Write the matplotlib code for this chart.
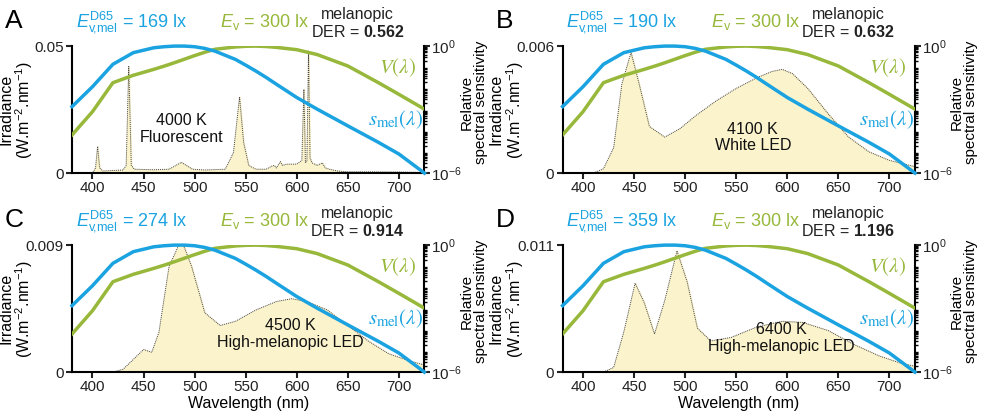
import numpy as np
import matplotlib
matplotlib.use("Agg")
import matplotlib.pyplot as plt
from matplotlib.ticker import LogLocator, NullFormatter

plt.rcParams["font.family"] = ["Liberation Sans", "DejaVu Sans"]
plt.rcParams["mathtext.fontset"] = "custom"
plt.rcParams["mathtext.rm"] = "Liberation Sans"
plt.rcParams["mathtext.it"] = "Liberation Sans:italic"
plt.rcParams["mathtext.bf"] = "Liberation Sans:bold"

BLUE = "#1aa3e0"
GREEN = "#97b83a"
FILL = "#fbf3cc"

# sensitivity curves (log10 of relative sensitivity)
sens_wl = [380, 400, 420, 440, 460, 470, 480, 490, 500, 510, 520, 540, 550, 560, 570, 580, 600, 620, 650, 680, 700, 725]
v_log = [-4.2, -3.1, -1.73, -1.38, -1.1, -0.95, -0.79, -0.62, -0.45, -0.29, -0.15, -0.04, -0.01, 0.0, -0.02, -0.06,
         -0.17, -0.4, -0.94, -1.73, -2.28, -2.98]
smel_log = [-2.86, -1.92, -0.86, -0.31, -0.08, -0.03, 0.0, 0.0, -0.03, -0.11, -0.24, -0.63, -0.9, -1.18, -1.48, -1.8,
            -2.43, -2.98, -3.77, -4.55, -5.1, -6.0]

# spectra (wavelength, irradiance)
fl_wl = [380, 400, 403, 405, 407, 410, 430, 433, 435.5, 438, 441, 460, 475, 487, 498, 510, 530, 538, 544, 548, 553, 560, 570,
         576, 578, 580, 584, 586, 590, 600, 605, 607, 608.5, 610, 611.5, 613, 615, 620, 625, 628, 632, 640, 650, 700, 725]
fl_ir = [0, 0, 0.002, 0.0105, 0.002, 0.0008, 0.0012, 0.003, 0.042, 0.003, 0.0015, 0.0013, 0.0015, 0.0042, 0.0015, 0.0012, 0.0015,
         0.008, 0.03, 0.012, 0.003, 0.0015, 0.0015, 0.0028, 0.003, 0.002, 0.0045, 0.003, 0.0035, 0.0035, 0.005, 0.033, 0.004,
         0.005, 0.048, 0.006, 0.004, 0.003, 0.004, 0.002, 0.0015, 0.0008, 0.0005, 0.0004, 0.0002]
wl_wl = [380, 410, 420, 430, 438, 447, 455, 465, 480, 495, 510, 530, 550, 570, 585, 595, 605, 620, 640, 660, 680, 700, 725]
wl_ir = [0, 0, 0.0002, 0.0012, 0.0042, 0.0057, 0.0042, 0.0022, 0.0017, 0.0021, 0.0027, 0.0034, 0.004, 0.0045, 0.0048, 0.0049,
         0.0047, 0.004, 0.0028, 0.0017, 0.001, 0.0006, 0.0003]
c_wl = [380, 420, 430, 440, 450, 458, 465, 475, 487, 497, 510, 525, 540, 560, 580, 595, 610, 630, 650, 670, 690, 710, 725]
c_ir = [0, 0, 0.0002, 0.0009, 0.0016, 0.0014, 0.0028, 0.0075, 0.0094, 0.0075, 0.0042, 0.0033, 0.0036, 0.0044, 0.005, 0.0052,
        0.005, 0.0044, 0.0033, 0.0022, 0.0013, 0.0008, 0.0005]
d_wl = [380, 420, 430, 440, 451, 460, 470, 480, 492, 502, 512, 525, 545, 570, 595, 615, 640, 665, 690, 710, 725]
d_ir = [0, 0, 0.0004, 0.0035, 0.0077, 0.006, 0.0033, 0.0062, 0.0105, 0.0078, 0.0038, 0.0027, 0.003, 0.0039, 0.0044, 0.0043,
        0.0036, 0.0024, 0.0014, 0.0008, 0.0005]

letters = ["A", "B", "C", "D"]
spectra = [(fl_wl, fl_ir), (wl_wl, wl_ir), (c_wl, c_ir), (d_wl, d_ir)]
ymaxes = [0.05, 0.006, 0.009, 0.011]
ymax_labels = ["0.05", "0.006", "0.009", "0.011"]
mel_lux = [169, 190, 274, 359]
der = ["0.562", "0.632", "0.914", "1.196"]
names = ["4000 K\nFluorescent", "4100 K\nWhite LED", "4500 K\nHigh-melanopic LED", "6400 K\nHigh-melanopic LED"]
name_pos = [(0.31, 0.35), (0.54, 0.28), (0.62, 0.3), (0.62, 0.27)]

fig = plt.figure(figsize=(9.87, 4.19), dpi=100)
rects = [(0.073, 0.587), (0.570, 0.587), (0.073, 0.112), (0.570, 0.112)]
for i, (l, b) in enumerate(rects):
    ax = fig.add_axes([l, b, 0.357, 0.303])
    wl, ir = spectra[i]
    ax.fill_between(wl, ir, color=FILL, zorder=1)
    ax.plot(wl, ir, color="#444444", ls=(0, (1, 1)), lw=0.7, zorder=2)
    ax.set_xlim(380, 725)
    ax.set_ylim(0, ymaxes[i])
    ax.set_yticks([0, ymaxes[i]])
    ax.set_yticklabels(["0", ymax_labels[i]])
    ax.set_xticks(range(400, 701, 50))
    ax.tick_params(labelsize=11, width=1.5, length=4, pad=2, colors="#222222")
    for s in ["top", "right"]:
        ax.spines[s].set_visible(False)
    ax.spines["left"].set_linewidth(1.5)
    ax.spines["bottom"].set_linewidth(1.5)
    ax.set_ylabel("Irradiance\n(W.m$^{-2}$.nm$^{-1}$)", fontsize=11.5, linespacing=1.0)
    ax.yaxis.set_label_coords(-0.105, 0.5)
    if i >= 2:
        ax.set_xlabel("Wavelength (nm)", fontsize=11.5, labelpad=1)

    ax2 = ax.twinx()
    ax2.set_yscale("log")
    ax2.set_ylim(1e-6, 1.0)
    ax2.plot(sens_wl, 10.0 ** np.array(v_log), color=GREEN, lw=2.5, zorder=3)
    ax2.plot(sens_wl, 10.0 ** np.array(smel_log), color=BLUE, lw=2.5, zorder=3, clip_on=False)
    ax2.set_yticks([1e-6, 1.0])
    ax2.set_yticklabels(["10$^{-6}$", "10$^{0}$"])
    ax2.yaxis.set_minor_locator(LogLocator(base=10, subs=np.arange(2, 10), numticks=20))
    ax2.yaxis.set_minor_formatter(NullFormatter())
    ax2.tick_params(labelsize=11, width=1.5, length=4, pad=1, colors="#222222")
    ax2.tick_params(which="minor", length=2.5, width=1)
    for s in ["top", "left", "bottom"]:
        ax2.spines[s].set_visible(False)
    ax2.spines["right"].set_linewidth(1.5)
    ax2.set_ylabel("Relative\nspectral sensitivity", fontsize=11, linespacing=1.0)
    ax2.yaxis.set_label_coords(1.1, 0.56)

    ax.text(-0.19, 1.2, letters[i], transform=ax.transAxes, fontsize=19, va="center")
    ax.text(0.01, 1.19, r"$E_{\rm v\!,\!mel}^{\rm D65}$ = %d lx" % mel_lux[i], transform=ax.transAxes,
            fontsize=13, color=BLUE, va="center")
    ax.text(0.42, 1.19, r"$E_{\rm v}$ = 300 lx", transform=ax.transAxes, fontsize=13, color=GREEN, va="center")
    ax.text(0.81, 1.25, "melanopic", transform=ax.transAxes, fontsize=11.5, ha="center", va="center",
            color="#222222")
    ax.text(0.81, 1.11, "DER = $\\mathbf{%s}$" % der[i], transform=ax.transAxes, fontsize=11.5, ha="center",
            va="center", color="#222222")
    ax.text(0.87, 0.83, r"$V(\lambda)$", transform=ax.transAxes, fontsize=15, color=GREEN, va="center",
            math_fontfamily="stix")
    ax.text(0.84, 0.42, r"$s_{\rm mel}(\lambda)$", transform=ax.transAxes, fontsize=15, color=BLUE,
            va="center", math_fontfamily="stix")
    ax.text(name_pos[i][0], name_pos[i][1], names[i], transform=ax.transAxes, fontsize=11.5, ha="center",
            va="center", linespacing=1.15, color="#111111")

fig.savefig("out.png", dpi=100)
